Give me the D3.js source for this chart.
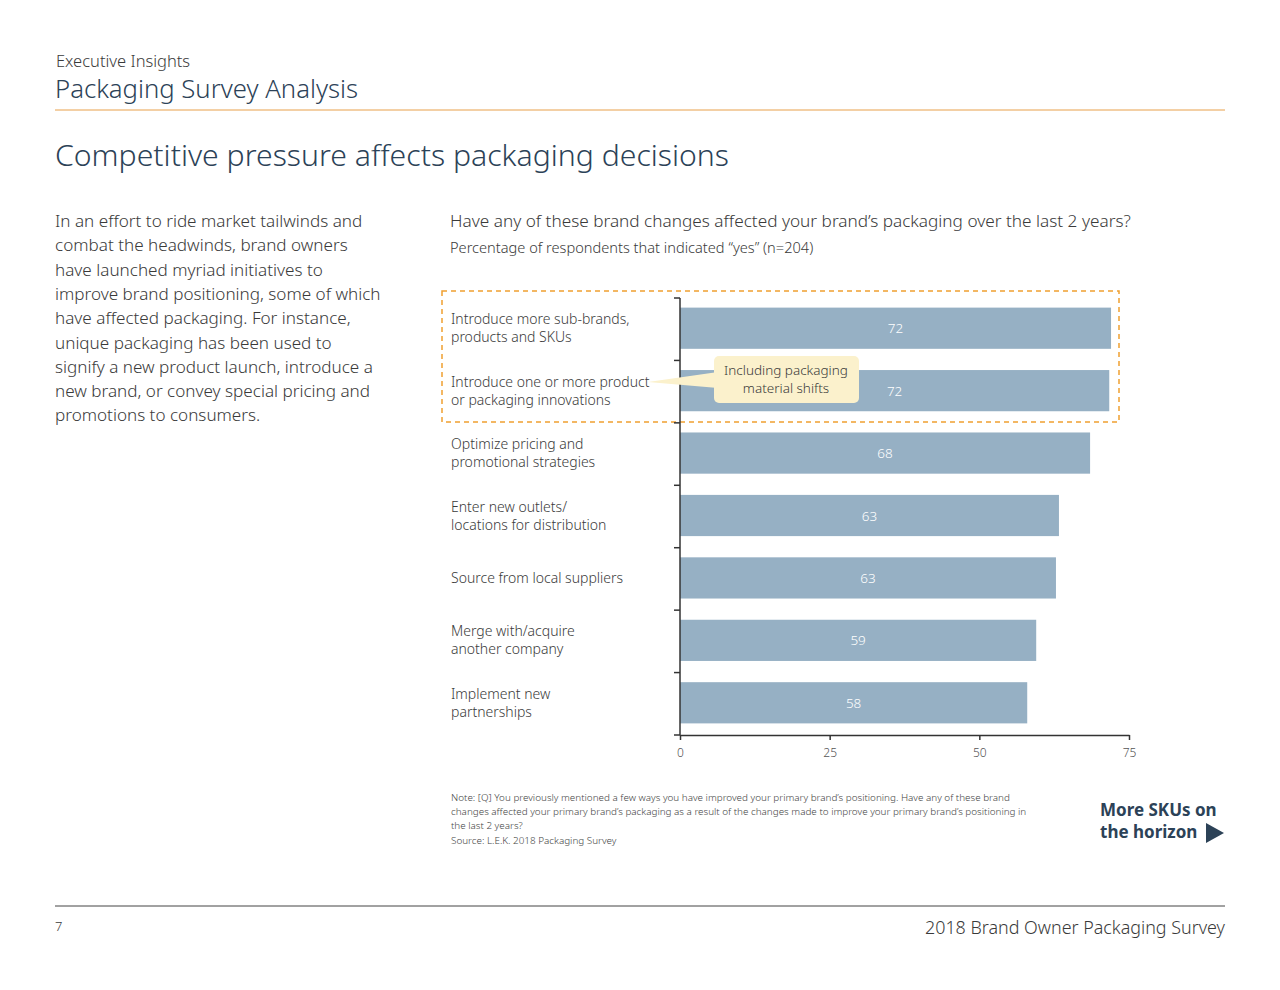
<!DOCTYPE html>
<html><head><meta charset="utf-8">
<script src="https://cdn.jsdelivr.net/npm/d3@7"></script>
<style>body{margin:0;background:#fff;font-family:"Noto Sans","Open Sans",sans-serif;}</style>
</head><body><svg id="c" width="1280" height="990"></svg>
<script>
const categories = [
  ["Introduce more sub-brands,","products and SKUs"],
  ["Introduce one or more product","or packaging innovations"],
  ["Optimize pricing and","promotional strategies"],
  ["Enter new outlets/","locations for distribution"],
  ["Source from local suppliers"],
  ["Merge with/acquire","another company"],
  ["Implement new","partnerships"]
];
const values = [72.0, 71.7, 68.5, 63.3, 62.8, 59.5, 58.0];
const valueLabels = ["72","72","68","63","63","59","58"];
const xTicks = [0, 25, 50, 75];

const svg = d3.select("#c");
const txt = (x,y,s,size,fill,opts={}) => svg.append("text").attr("x",x).attr("y",y).attr("font-size",size).attr("fill",fill)
  .attr("font-weight",opts.w||300).attr("text-anchor",opts.a||"start").text(s);

txt(56,67,"Executive Insights",16.5,"#3a3a3a");
txt(55,98,"Packaging Survey Analysis",25.7,"#2c4257");
svg.append("line").attr("x1",55).attr("x2",1225).attr("y1",110).attr("y2",110).attr("stroke","#e8a04a").attr("stroke-width",1);
txt(55,166,"Competitive pressure affects packaging decisions",30.2,"#2c4257");

const para = ["In an effort to ride market tailwinds and","combat the headwinds, brand owners","have launched myriad initiatives to","improve brand positioning, some of which","have affected packaging. For instance,","unique packaging has been used to","signify a new product launch, introduce a","new brand, or convey special pricing and","promotions to consumers."];
para.forEach((l,i)=>txt(55,227+i*24.3,l,17.1,"#3a3a3a"));

txt(450,227,"Have any of these brand changes affected your brand’s packaging over the last 2 years?",17.2,"#3a3a3a");
txt(450,253,"Percentage of respondents that indicated “yes” (n=204)",14.6,"#3a3a3a");

const x = d3.scaleLinear().domain([0,75]).range([680,1129]);
const y = d3.scaleBand().domain(d3.range(values.length)).range([298,735]).paddingInner(0.34).paddingOuter(0.17);

svg.append("rect").attr("x",442).attr("y",291).attr("width",677).attr("height",131)
  .attr("fill","none").attr("stroke","#f0a030").attr("stroke-width",1.5).attr("stroke-dasharray","5,4");

svg.selectAll(".bar").data(values).join("rect").attr("x",x(0)).attr("y",(d,i)=>y(i)-1)
  .attr("width",d=>x(d)-x(0)).attr("height",y.bandwidth()).attr("fill","#96b0c4");
svg.selectAll(".vl").data(values).join("text").attr("x",d=>(x(0)+x(d))/2).attr("y",(d,i)=>y(i)+y.bandwidth()/2+4)
  .attr("text-anchor","middle").attr("font-size",13.5).attr("font-weight",300).attr("fill","#fff").text((d,i)=>valueLabels[i]);

categories.forEach((c,i)=>{
  const cy = y(i)+y.bandwidth()/2;
  const t = svg.append("text").attr("x",451).attr("font-size",14).attr("font-weight",300).attr("fill","#3a3a3a");
  c.forEach((l,j)=>t.append("tspan").attr("x",451).attr("y",cy+4+(j-(c.length-1)/2)*18).text(l));
});

svg.append("line").attr("x1",680).attr("x2",680).attr("y1",298).attr("y2",735).attr("stroke","#333").attr("stroke-width",1.5);
d3.range(values.length+1).forEach(i=>{
  const yy = 298 + i*y.step();
  svg.append("line").attr("x1",674).attr("x2",680).attr("y1",yy).attr("y2",yy).attr("stroke","#333").attr("stroke-width",1.5);
});
const xa = svg.append("g").attr("transform","translate(0,735)").call(d3.axisBottom(x).tickValues(xTicks).tickSize(5).tickSizeOuter(0));
xa.select(".domain").attr("stroke","#333").attr("stroke-width",1.5);
xa.selectAll(".tick line").attr("stroke","#333").attr("stroke-width",1.5);
xa.selectAll("text").attr("font-size",12).attr("font-family","Noto Sans").attr("font-weight",300).attr("fill","#555").attr("dy","1.2em");

svg.append("path").attr("d","M648,382 L718,372 L718,388 Z").attr("fill","#fbf1cc");
svg.append("rect").attr("x",714).attr("y",356).attr("width",145).attr("height",47).attr("rx",5).attr("fill","#fbf1cc");
txt(786,375,"Including packaging",13.5,"#3a3a3a",{a:"middle"});
txt(786,393,"material shifts",13.5,"#3a3a3a",{a:"middle"});

const note = ["Note: [Q] You previously mentioned a few ways you have improved your primary brand’s positioning. Have any of these brand","changes affected your primary brand’s packaging as a result of the changes made to improve your primary brand’s positioning in","the last 2 years?","Source: L.E.K. 2018 Packaging Survey"];
note.forEach((l,i)=>txt(451,801+i*14.2,l,9.9,"#444"));

txt(1100,816,"More SKUs on",17,"#2c4257",{w:700});
txt(1100,838,"the horizon",17,"#2c4257",{w:700});
svg.append("path").attr("d","M1206,823 L1224,833 L1206,843 Z").attr("fill","#2c4257");

svg.append("line").attr("x1",55).attr("x2",1225).attr("y1",906).attr("y2",906).attr("stroke","#444").attr("stroke-width",1);
txt(55,931,"7",13,"#3a3a3a");
txt(1225,934,"2018 Brand Owner Packaging Survey",17.9,"#3a3a3a",{a:"end"});
</script></body></html>
